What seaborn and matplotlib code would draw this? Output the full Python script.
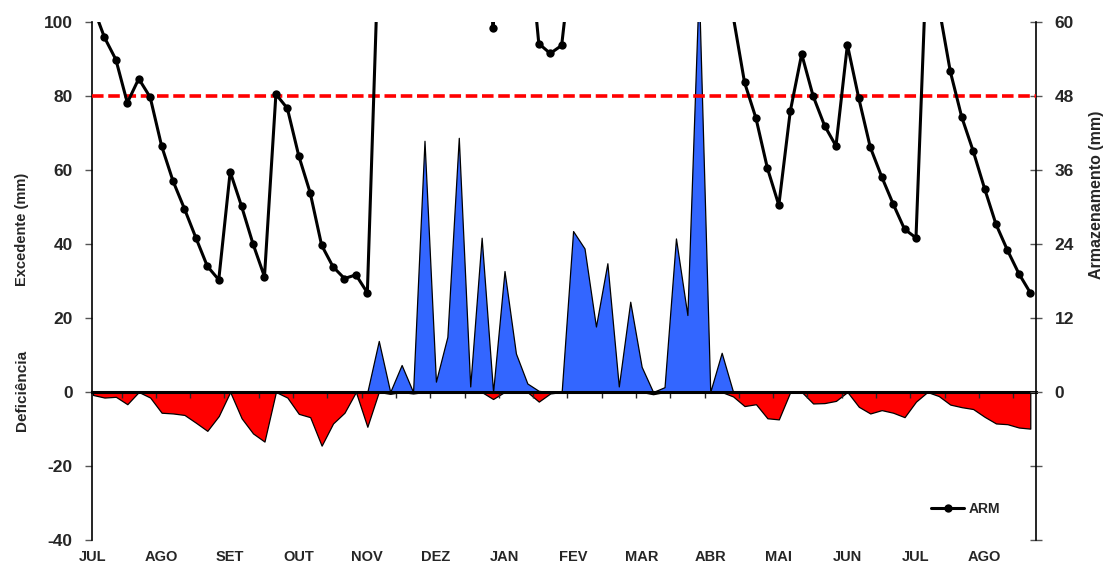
import numpy as np
import pandas as pd
import matplotlib
matplotlib.use('Agg')
import matplotlib.pyplot as plt
import seaborn as sns

# balanco hidrico por pentada (6 por mes), jul a ago do ano seguinte
meses = ['JUL', 'AGO', 'SET', 'OUT', 'NOV', 'DEZ', 'JAN',
         'FEV', 'MAR', 'ABR', 'MAI', 'JUN', 'JUL', 'AGO']

excedente = [0, 0, 0, 0, 0, 0,
             0, 0, 0, 0, 0, 0,
             0, 0, 0, 0, 0, 0,
             0, 0, 0, 0, 0, 0,
             0, 13.8, 0, 7.3, 0, 67.9,
             2.8, 14.9, 68.7, 1.5, 41.7, 0,
             32.7, 10.4, 2.3, 0.3, 0, 0,
             43.5, 38.8, 17.7, 34.8, 1.5, 24.4,
             6.8, 0, 1.3, 41.5, 20.8, 110,
             0, 10.6, 0, 0, 0, 0,
             0, 0, 0, 0, 0, 0,
             0, 0, 0, 0, 0, 0,
             0, 0, 0, 0, 0, 0,
             0, 0, 0, 0, 0]

deficiencia = [-0.8, -1.5, -1.3, -3.3, 0, -1.5,
               -5.6, -5.8, -6.2, -8.3, -10.5, -6.5,
               0, -7.1, -11.2, -13.4, 0, -1.5,
               -5.9, -6.8, -14.5, -8.5, -5.6, 0,
               -9.4, 0, -0.5, 0, -0.4, 0,
               0, 0, 0, 0, 0, -1.9,
               0, 0, 0, -2.6, -0.4, 0,
               0, 0, 0, 0, 0, 0,
               0, -0.6, 0, 0, 0, 0,
               0, 0, -1.2, -3.8, -3.3, -7.1,
               -7.4, 0, 0, -3.1, -3.0, -2.4,
               0, -4.0, -5.8, -4.9, -5.6, -6.8,
               -2.6, 0, -1.1, -3.4, -4.1, -4.6,
               -6.7, -8.5, -8.7, -9.6, -9.9]

arm = [62.5, 57.5, 53.9, 46.9, 50.8, 47.8,
       39.9, 34.2, 29.7, 25.0, 20.4, 18.2,
       35.7, 30.1, 24.0, 18.7, 48.3, 46.0,
       38.3, 32.3, 23.8, 20.3, 18.4, 19.0,
       16.1, 73, 90, 95, 110, 150,
       140, 150, 170, 160, 150, 59.1,
       150, 120, 76, 56.5, 54.9, 56.2,
       72.6, 100, 110, 120, 110, 120,
       115, 100, 105, 130, 140, 180,
       120, 90, 61, 50.2, 44.4, 36.3,
       30.3, 45.5, 54.8, 48.0, 43.2, 39.9,
       56.3, 47.6, 39.7, 34.9, 30.5, 26.4,
       25.0, 73.6, 62.5, 52.0, 44.6, 39.1,
       33.0, 27.2, 23.0, 19.2, 16.1]

cad = 48

azul = '#3366ff'
vermelho = '#ff0000'

sns.set_theme(style='white')
plt.rcParams['font.family'] = ['Liberation Sans', 'DejaVu Sans']
plt.rcParams['font.weight'] = 'bold'
plt.rcParams['axes.unicode_minus'] = False

df = pd.DataFrame({'pentada': np.arange(len(arm)), 'exc': excedente,
                   'def': deficiencia, 'arm': arm})

fig = plt.figure(figsize=(11.04, 5.63), dpi=100)
ax = fig.add_axes([92 / 1104, 23 / 563, 944 / 1104, 518 / 563])

ax.fill_between(df.pentada, 0, df.exc, facecolor=azul, edgecolor='black',
                linewidth=0.9, zorder=2)
ax.fill_between(df.pentada, 0, df['def'], facecolor=vermelho, edgecolor='black',
                linewidth=0.9, zorder=2)

ax.set_xlim(-0.09, 82.5)
ax.set_ylim(-40, 100)
ax.set_yticks(np.arange(-40, 101, 20))
ax.set_xticks(np.arange(0, len(arm), 6), labels=meses)
ax.tick_params(axis='x', length=0, pad=7, labelsize=10.5)
for lbl in ax.get_xticklabels():
    lbl.set_family(['Liberation Sans Narrow', 'Liberation Sans'])
ax.tick_params(axis='y', direction='out', length=5, width=1, color='#555555',
               labelsize=12.5, pad=9)
for s in ['top', 'bottom', 'right']:
    ax.spines[s].set_visible(False)
ax.spines['left'].set_color('black')
ax.spines['left'].set_linewidth(1.2)

# eixo das pentadas sobre a linha do zero
sec = ax.secondary_xaxis(40 / 140)
sec.set_xticks(np.arange(2.5, len(arm), 3))
sec.tick_params(direction='out', length=4, width=1, labelbottom=False, labeltop=False)
sec.spines['bottom'].set_linewidth(2.2)
sec.spines['bottom'].set_color('black')
sec.set_zorder(6)

ax2 = ax.twinx()
ax2.set_ylim(-24, 60)
ticks2 = np.arange(-24, 61, 12)
ax2.set_yticks(ticks2, labels=[str(t) if t >= 0 else '' for t in ticks2])
ax2.tick_params(axis='y', direction='inout', length=9, width=1, color='#555555',
                labelsize=12.5, pad=9)
for s in ['top', 'bottom', 'left']:
    ax2.spines[s].set_visible(False)
ax2.spines['right'].set_color('black')
ax2.spines['right'].set_linewidth(1.2)

ax2.axhline(cad, color=vermelho, lw=2.6, dashes=(3.2, 1.3), zorder=4)
sns.lineplot(data=df, x='pentada', y='arm', ax=ax2, color='black', marker='o',
             markersize=6, markeredgecolor='black', markeredgewidth=0,
             linewidth=2.2, label='ARM', zorder=5)
ax2.set_xlabel('')
ax2.set_ylabel('')
ax2.legend(loc='center right', bbox_to_anchor=(0.975, 0.06), frameon=False,
           prop={'weight': 'bold', 'size': 10}, handlelength=2.4, handletextpad=0.3)

fig.text(22 / 1104, 1 - 229 / 563, 'Excedente (mm)', rotation=90,
         ha='center', va='center', fontsize=10.5, weight='bold')
fig.text(22 / 1104, 1 - 390 / 563, 'Deficiência', rotation=90,
         ha='center', va='center', fontsize=11, weight='bold')
fig.text(1096 / 1104, 1 - 195 / 563, 'Armazenamento (mm)', rotation=90,
         ha='center', va='center', fontsize=11.5, weight='bold')

fig.savefig('out.png', dpi=100)
